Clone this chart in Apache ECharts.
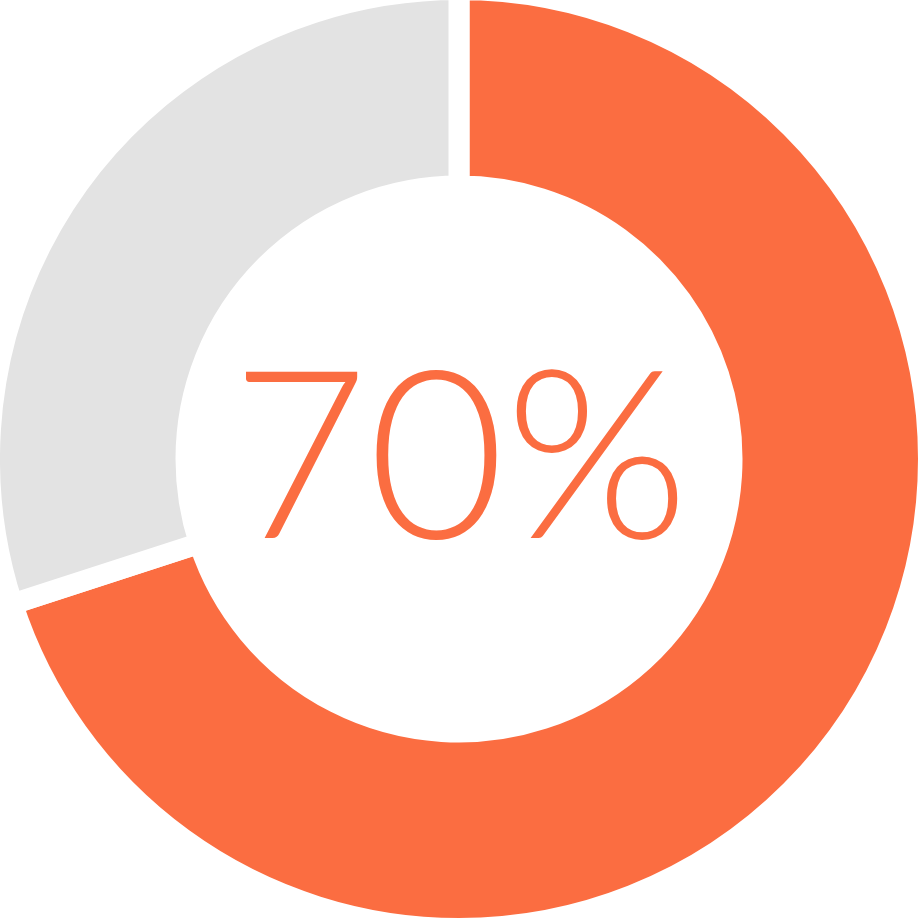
<!DOCTYPE html>
<html><head><meta charset="utf-8">
<script src="https://cdn.jsdelivr.net/npm/echarts@6/dist/echarts.min.js"></script>
<style>html,body{margin:0;padding:0;background:#fff}#c{width:918px;height:918px}</style>
</head><body><div id="c"></div>
<script>
const categories = ['Done', 'Remaining'];
const values = [70, 30];
const colors = ['#FB6D41', '#E3E3E3'];

const chart = echarts.init(document.getElementById('c'), null, {renderer: 'canvas'});
const total = values.reduce((a, b) => a + b, 0);
const pct = Math.round(values[0] / total * 100) + '%';
chart.setOption({
  animation: false,
  series: [{
    type: 'pie',
    center: ['50%', '50%'],
    radius: [273, 469.5],
    startAngle: 90,
    clockwise: true,
    label: {show: false},
    labelLine: {show: false},
    emphasis: {disabled: true},
    itemStyle: {borderColor: '#ffffff', borderWidth: 21},
    data: categories.map((c, i) => ({name: c, value: values[i], itemStyle: {color: colors[i]}}))
  }],
  graphic: [{
    type: 'text',
    x: 460,
    y: 462,
    style: {
      text: pct,
      fill: '#FB6D41',
      font: '300 236px Lato',
      textAlign: 'center',
      textVerticalAlign: 'middle'
    }
  }]
});
</script></body></html>
